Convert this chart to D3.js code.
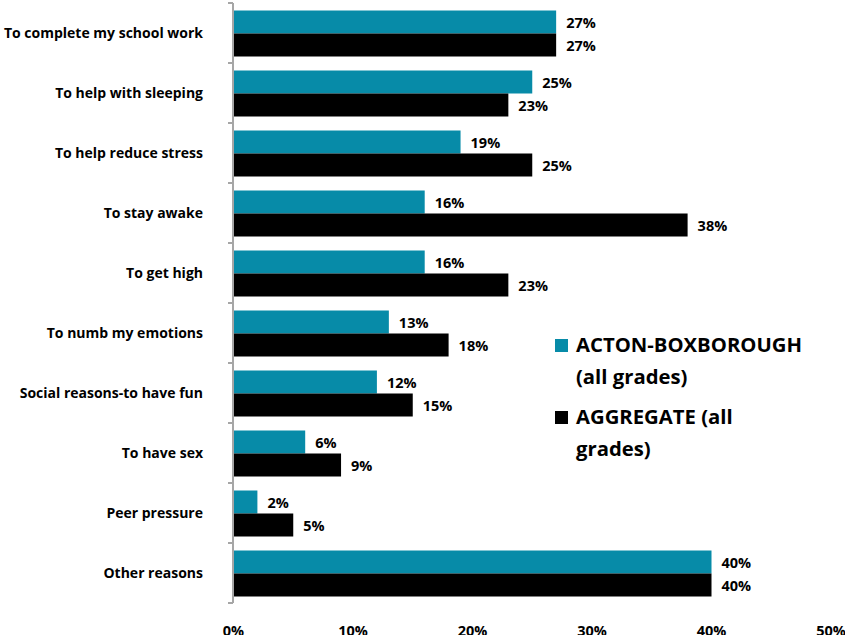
<!DOCTYPE html>
<html><head><meta charset="utf-8">
<script src="https://cdn.jsdelivr.net/npm/d3@7"></script>
<style>body{margin:0;background:#fff;} text{font-family:"Open Sans", "Liberation Sans", sans-serif;font-weight:bold;}</style>
</head><body>
<svg id="c" width="845" height="635"></svg>
<script>
const categories = ["To complete my school work","To help with sleeping","To help reduce stress","To stay awake","To get high","To numb my emotions","Social reasons-to have fun","To have sex","Peer pressure","Other reasons"];
const acton = [27,25,19,16,16,13,12,6,2,40];
const aggregate = [27,23,25,38,23,18,15,9,5,40];
const seriesNames = ["ACTON-BOXBOROUGH (all grades)","AGGREGATE (all grades)"];
const xTicks = [0,10,20,30,40,50];
const colors = ["#078BA8","#000000"];

const svg = d3.select("#c");
const x = d3.scaleLinear().domain([0,50]).range([233.5, 831]);
const y = d3.scaleBand().domain(categories).range([3, 603]).paddingInner(0).paddingOuter(0);
const barH = 23, off = 7.5;

const g = svg.append("g");
categories.forEach((c,i)=>{
  const y0 = y(c);
  [acton[i], aggregate[i]].forEach((v,k)=>{
    g.append("rect").attr("x", x(0)).attr("y", y0+off+k*barH).attr("width", x(v)-x(0)).attr("height", barH).attr("fill", colors[k]);
    g.append("text").attr("x", x(v)+10).attr("y", y0+off+k*barH+barH/2+6).attr("font-size",14.5).text(v+"%");
  });
  g.append("text").attr("x", 203).attr("y", y0+y.bandwidth()/2+5).attr("text-anchor","end").attr("font-size",14).text(c);
});

// y axis line and ticks
const ax = svg.append("g").attr("stroke","#A6A6A6").attr("stroke-width",2);
ax.append("line").attr("x1",233).attr("x2",233).attr("y1",3).attr("y2",603);
d3.range(categories.length+1).forEach(i=>{
  const yy = 3 + i*y.step();
  ax.append("line").attr("x1",228).attr("x2",233).attr("y1",yy).attr("y2",yy);
});

// x tick labels
xTicks.forEach(t=>{
  svg.append("text").attr("x", x(t)).attr("y", 636).attr("text-anchor","middle").attr("font-size",14.5).text(t+"%");
});

// legend
const leg = [{y:339, lines:["ACTON-BOXBOROUGH","(all grades)"]},{y:411, lines:["AGGREGATE (all","grades)"]}];
leg.forEach((l,k)=>{
  svg.append("rect").attr("x",555).attr("y",l.y).attr("width",13).attr("height",13).attr("fill",colors[k]);
  l.lines.forEach((t,j)=>{
    svg.append("text").attr("x",576).attr("y",l.y+13+j*32).attr("font-size",20.3).text(t);
  });
});
</script>
</body></html>
